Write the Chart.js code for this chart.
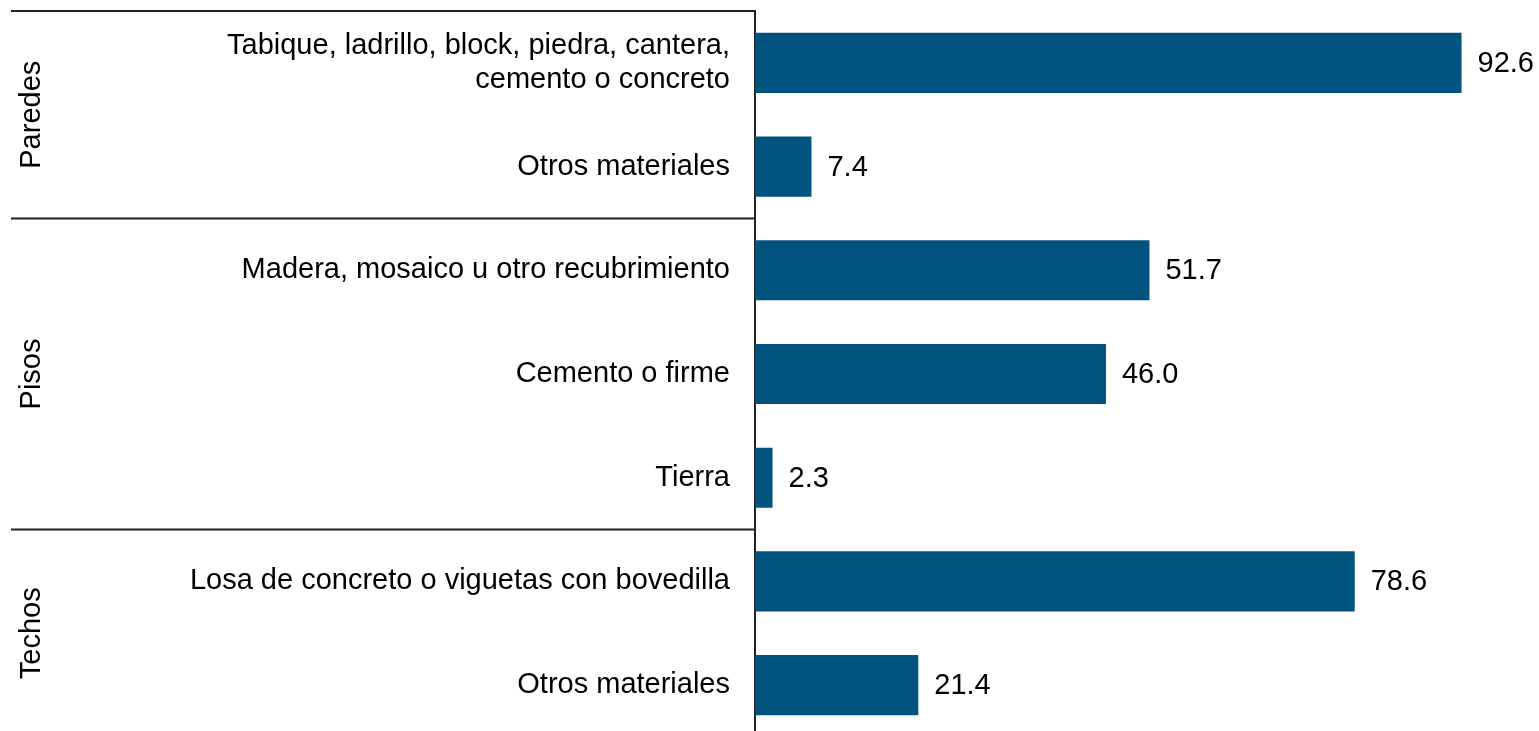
<!DOCTYPE html>
<html>
<head>
<meta charset="utf-8">
<script src="https://cdn.jsdelivr.net/npm/chart.js@4"></script>
<style>
body{margin:0;background:#fff;overflow:hidden}
</style>
</head>
<body>
<canvas id="chart" width="1539" height="738"></canvas>
<script>

// data
let categories = [
["Tabique, ladrillo, block, piedra, cantera,","cemento o concreto"],
"Otros materiales",
"Madera, mosaico u otro recubrimiento",
"Cemento o firme",
"Tierra",
"Losa de concreto o viguetas con bovedilla",
"Otros materiales"
]
let values = [92.6, 7.4, 51.7, 46.0, 2.3, 78.6, 21.4]
let groups = ["Paredes", "Pisos", "Techos"]
let groupSizes = [2, 3, 2]

let FONT = "'Liberation Sans', Arial, sans-serif"
let SIZE = 29

// group labels, separators and value labels
let groupPlugin = {
id:"groups",
afterDraw(chart){
let ctx = chart.ctx
let y = chart.scales.y
let area = chart.chartArea
let half = (y.getPixelForValue(1) - y.getPixelForValue(0)) / 2
ctx.save()
ctx.strokeStyle = "#222"
ctx.lineWidth = 2
ctx.beginPath()
ctx.moveTo(11, area.top)
ctx.lineTo(area.left, area.top)
ctx.stroke()

let start = 0
groupSizes.forEach(function(n, g){
let top = y.getPixelForValue(start) - half
let bottom = y.getPixelForValue(start + n - 1) + half
if(g > 0){
ctx.beginPath()
ctx.moveTo(11, top)
ctx.lineTo(area.left, top)
ctx.stroke()
}
ctx.save()
ctx.translate(32, (top + bottom) / 2)
ctx.rotate(-Math.PI / 2)
ctx.fillStyle = "#000"
ctx.font = SIZE + "px " + FONT
ctx.textAlign = "center"
ctx.textBaseline = "middle"
ctx.fillText(groups[g], 0, 0)
ctx.restore()
start += n
})

let meta = chart.getDatasetMeta(0)
ctx.fillStyle = "#000"
ctx.font = SIZE + "px " + FONT
ctx.textAlign = "left"
ctx.textBaseline = "middle"
meta.data.forEach(function(bar, i){
ctx.fillText(values[i].toFixed(1), bar.x + 16, bar.y + 1)
})
ctx.restore()
}
}

let ctx = document.getElementById("chart").getContext("2d")

new Chart(ctx,{

type:"bar",

data:{
labels:categories,
datasets:[{
data:values,
backgroundColor:"#00527f",
borderWidth:0,
barPercentage:0.58,
categoryPercentage:1
}]
},

options:{
indexAxis:"y",
responsive:false,
animation:false,
layout:{padding:{top:11, right:21, bottom:1, left:0}},
plugins:{
legend:{display:false},
tooltip:{enabled:false}
},
scales:{
x:{
display:false,
min:0,
max:100
},
y:{
afterFit(scale){
scale.width = 755
scale.paddingTop = 0
scale.paddingBottom = 0
},
grid:{display:false, drawTicks:false},
border:{display:true, color:"#222", width:2},
ticks:{
color:"#000",
padding:25,
font:{family:FONT, size:SIZE, lineHeight:1.17}
}
}
}
},

plugins:[groupPlugin]

})

</script>
</body>
</html>
